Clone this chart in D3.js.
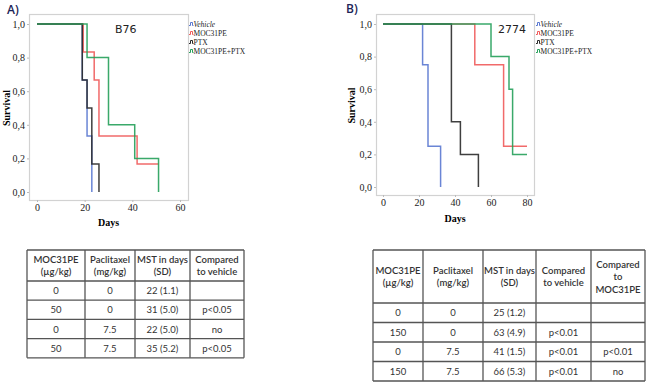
<!DOCTYPE html>
<html><head><meta charset="utf-8"><title>Survival B76 / 2774</title>
<script src="https://d3js.org/d3.v7.min.js"></script>
<style>
body { margin: 0; background: #fff; }
svg { display: block; }
.tick text { font-family: "Liberation Serif", serif; font-size: 10px; fill: #222; }
.tick line { stroke: #bbb; }
.domain { display: none; }
</style>
</head>
<body>
<div id="chart"></div>
<script>
// series, [day, survival]
const seriesNames = ["Vehicle", "MOC31PE", "PTX", "MOC31PE+PTX"];
const seriesColors = ["#5a78d0", "#f05a5a", "#2a2a2a", "#25a05a"];

const b76Vehicle = [[0, 1], [19, 0.667], [21, 0.333], [23, 0]];
const b76Moc = [[0, 1], [19.4, 0.833], [24, 0.667], [26, 0.333], [42, 0.167], [51, 0.167]];
const b76Ptx = [[0, 1], [19, 0.667], [21, 0.5], [23, 0.167], [26, 0]];
const b76Combo = [[0, 1], [21, 0.8], [30, 0.4], [41, 0.2], [51, 0]];

const c2774Vehicle = [[0, 1], [22, 0.75], [25, 0.25], [32, 0]];
const c2774Moc = [[0, 1], [51, 0.75], [67, 0.25], [80, 0.25]];
const c2774Ptx = [[0, 1], [38, 0.4], [43, 0.2], [53, 0]];
const c2774Combo = [[0, 1], [60, 0.8], [70, 0.6], [72, 0.2], [80, 0.2]];

const xTicksA = [0, 20, 40, 60];
const xTicksB = [0, 20, 40, 60, 80];
const yTicks = [0, 0.2, 0.4, 0.6, 0.8, 1.0];

// tables
const headerA = [["MOC31PE", "(\u00b5g/kg)"], ["Paclitaxel", "(mg/kg)"], ["MST in days", "(SD)"], ["Compared", "to vehicle"]];
const rowsA = [
  ["0", "0", "22 (1.1)", ""],
  ["50", "0", "31 (5.0)", "p<0.05"],
  ["0", "7.5", "22 (5.0)", "no"],
  ["50", "7.5", "35 (5.2)", "p<0.05"]
];
const headerB = [["MOC31PE", "(\u00b5g/kg)"], ["Paclitaxel", "(mg/kg)"], ["MST in days", "(SD)"], ["Compared", "to vehicle"], ["Compared", "to", "MOC31PE"]];
const rowsB = [
  ["0", "0", "25 (1.2)", "", ""],
  ["150", "0", "63 (4.9)", "p<0.01", ""],
  ["0", "7.5", "41 (1.5)", "p<0.01", "p<0.01"],
  ["150", "7.5", "66 (5.3)", "p<0.01", "no"]
];

const svg = d3.select("#chart").append("svg")
  .attr("width", 650)
  .attr("height", 383);

function drawPanel(o) {
  const g = svg.append("g");
  const x = d3.scaleLinear().domain(o.xDomain).range(o.xRange);
  const y = d3.scaleLinear().domain([0, 1]).range(o.yRange);

  // frame
  g.append("rect")
    .attr("x", o.box[0] + 0.5).attr("y", o.box[1] + 0.5)
    .attr("width", o.box[2] - o.box[0]).attr("height", o.box[3] - o.box[1])
    .attr("fill", "none").attr("stroke", "#d2d2d2").attr("stroke-width", 1.2);

  g.append("g")
    .attr("transform", `translate(${o.box[0]},0)`)
    .call(d3.axisLeft(y).tickValues(yTicks).tickSize(2).tickPadding(2)
      .tickFormat(d => d3.format(".1f")(d).replace(".", ",")));

  g.append("g")
    .attr("transform", `translate(0,${o.box[3]})`)
    .call(d3.axisBottom(x).tickValues(o.xTicks).tickSize(2).tickPadding(2));

  const line = d3.line()
    .x(d => x(d[0])).y(d => y(d[1]))
    .curve(d3.curveStepAfter);

  o.series.forEach((s, i) => {
    g.append("path")
      .attr("d", line(s))
      .attr("fill", "none")
      .attr("stroke", seriesColors[i])
      .attr("stroke-width", 1.5)
      .attr("stroke-opacity", 0.9);
  });

  g.append("text")
    .attr("x", o.titlePos[0]).attr("y", o.titlePos[1])
    .attr("font-family", "'DejaVu Sans', sans-serif").attr("font-size", 11)
    .attr("fill", "#222")
    .text(o.title);

  g.append("text")
    .attr("x", (o.xRange[0] + o.xRange[1]) / 2).attr("y", o.daysY)
    .attr("text-anchor", "middle")
    .attr("font-family", "'Liberation Serif', serif").attr("font-size", 10)
    .attr("font-weight", "bold")
    .text("Days");

  g.append("text")
    .attr("transform", `translate(${o.survX},${(o.yRange[0] + o.yRange[1]) / 2}) rotate(-90)`)
    .attr("text-anchor", "middle")
    .attr("font-family", "'Liberation Serif', serif").attr("font-size", 10)
    .attr("font-weight", "bold")
    .text("Survival");

  g.append("text")
    .attr("x", o.labelPos[0]).attr("y", o.labelPos[1])
    .attr("font-family", "'Open Sans', sans-serif").attr("font-size", 12)
    .attr("font-weight", 600)
    .attr("fill", "#1c2456")
    .text(o.label);

  // legend
  const lg = g.append("g").attr("transform", `translate(${o.legendPos[0]},${o.legendPos[1]})`);
  seriesNames.forEach((n, i) => {
    const ly = i * 9;
    lg.append("path")
      .attr("d", `M0,${ly + 1.5}H1.5V${ly - 1.5}H3.5V${ly + 1.5}H4.5`)
      .attr("fill", "none").attr("stroke", seriesColors[i]).attr("stroke-width", 1);
    lg.append("text")
      .attr("x", 4.5).attr("y", ly + 2.5)
      .attr("font-family", "'Liberation Serif', serif").attr("font-size", 7.5)
      .attr("font-style", i === 0 ? "italic" : "normal")
      .attr("fill", "#222")
      .text(n);
  });
}

drawPanel({
  box: [29, 14, 188, 200], xDomain: [0, 60], xRange: [37, 180], yRange: [192, 24],
  xTicks: xTicksA, series: [b76Vehicle, b76Moc, b76Ptx, b76Combo],
  title: "B76", titlePos: [115, 33], daysY: 226, survX: 10,
  label: "A)", labelPos: [7, 14], legendPos: [189, 24]
});

drawPanel({
  box: [376, 14, 534, 195], xDomain: [0, 80], xRange: [383, 527], yRange: [187, 24],
  xTicks: xTicksB, series: [c2774Vehicle, c2774Moc, c2774Ptx, c2774Combo],
  title: "2774", titlePos: [498, 33], daysY: 222, survX: 355,
  label: "B)", labelPos: [346, 13], legendPos: [536, 24]
});

function drawTable(left, top, colX, headerH, rowH, header, rows) {
  const g = svg.append("g");
  const right = colX[colX.length - 1];
  const bottom = top + headerH + rowH * rows.length;
  const rowY = [top, top + headerH];
  rows.forEach((r, i) => rowY.push(top + headerH + rowH * (i + 1)));

  rowY.forEach(yy => g.append("line")
    .attr("x1", left).attr("x2", right).attr("y1", yy).attr("y2", yy)
    .attr("stroke", "#555").attr("stroke-width", 1.3));
  colX.forEach(xx => g.append("line")
    .attr("x1", xx).attr("x2", xx).attr("y1", top).attr("y2", bottom)
    .attr("stroke", "#555").attr("stroke-width", 1.3));

  const font = "Lato, 'Open Sans', sans-serif";
  header.forEach((lines, c) => {
    const cx = (colX[c] + colX[c + 1]) / 2;
    const lh = 12.5;
    const y0 = top + headerH / 2 - (lines.length - 1) * lh / 2 + 3.5;
    lines.forEach((t, k) => {
      g.append("text")
        .attr("x", cx).attr("y", y0 + k * lh)
        .attr("text-anchor", "middle")
        .attr("font-family", font).attr("font-size", 9.5).attr("font-weight", 600)
        .attr("fill", "#333")
        .text(t);
    });
  });
  rows.forEach((r, i) => {
    r.forEach((t, c) => {
      g.append("text")
        .attr("x", (colX[c] + colX[c + 1]) / 2)
        .attr("y", top + headerH + rowH * i + rowH / 2 + 3.5)
        .attr("text-anchor", "middle")
        .attr("font-family", font).attr("font-size", 9.5)
        .attr("fill", "#333")
        .text(t);
    });
  });
}

drawTable(27, 250, [27, 85, 135, 190, 244], 31, 19.2, headerA, rowsA);
drawTable(373, 250, [373, 423, 483, 536, 591, 645], 53, 19.5, headerB, rowsB);
</script>
</body></html>
